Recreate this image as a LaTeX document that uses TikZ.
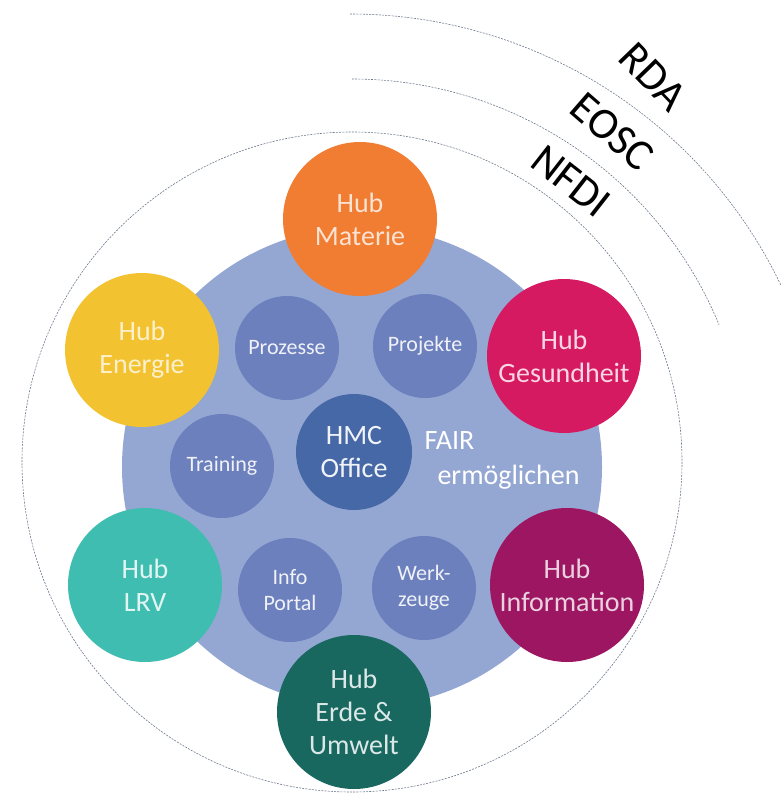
\documentclass[tikz,border=0pt]{standalone}
\usepackage{fontspec}
\setmainfont{Carlito}
\usepackage{xcolor}
\usetikzlibrary{math}
\definecolor{ringgray}{RGB}{108,122,140}
\definecolor{coreblue}{RGB}{148,166,210}
\definecolor{taskblue}{RGB}{108,128,189}
\definecolor{officeblue}{RGB}{70,104,166}
\definecolor{hmcorange}{RGB}{240,125,50}
\definecolor{hmcyellow}{RGB}{242,194,48}
\definecolor{hmcpink}{RGB}{214,26,98}
\definecolor{hmcplum}{RGB}{156,22,98}
\definecolor{hmcteal}{RGB}{62,189,176}
\definecolor{hmcgreen}{RGB}{24,104,96}

\begin{document}
\begin{tikzpicture}[x=1pt,y=-1pt,
  ring/.style={color=ringgray, line width=0.6pt, dash pattern=on 2pt off 1.2pt},
  hub/.style={circle, minimum size=154, inner sep=0, align=center,
    font=\fontsize{28}{33}\selectfont},
  task/.style={circle, minimum size=104, inner sep=0, fill=taskblue, align=center,
    text=white!90!taskblue, font=\fontsize{22}{26}\selectfont},
  level/.style={inner sep=0, font=\fontsize{44}{44}\selectfont}]
\tikzmath{
\cx=352; \cy=462; \R=330;
}
\useasboundingbox (0,0) rectangle (781,797);

%outer rings
\draw[ring] (\cx,\cy) circle (\R);
\draw[ring] (352,476) ++(-90:397) arc[start angle=-90, end angle=-22.4, radius=397];
\draw[ring] (350,492) ++(-90:478) arc[start angle=-90, end angle=-25.6, radius=478];
\node[level, rotate=-46] (rda) at (653,77) {RDA};
\node[level, rotate=-41] (eosc) at (612,132) {EOSC};
\node[level, rotate=-38] (nfdi) at (571,181) {NFDI};

%core
\fill[coreblue] (362,467) circle (240);
\node[task] (prozesse) at (287,348) {Prozesse};
\node[task] (projekte) at (425,346) {Projekte};
\node[task] (training) at (222,466) {Training};
\node[task] (portal) at (290,590) {Info\\Portal};
\node[task] (werkzeuge) at (424,588) {Werk-\\zeuge};
\node[task, minimum size=116, fill=officeblue, text=white!92!officeblue,
  font=\fontsize{28}{33}\selectfont] (office) at (354,452) {HMC\\Office};
\node[anchor=base west, text=white, font=\fontsize{28}{33}\selectfont] (fair) at (421,449) {FAIR};
\node[anchor=base west, text=white, font=\fontsize{28}{33}\selectfont] (enable) at (434,484) {ermöglichen};

%hubs
\node[hub, fill=hmcorange, text=white!78!hmcorange] (materie) at (360,219) {Hub\\Materie};
\node[hub, fill=hmcyellow, text=white!75!hmcyellow] (energie) at (142,350) {Hub\\Energie};
\node[hub, fill=hmcpink, text=white!82!hmcpink] (gesundheit) at (564,356) {Hub\\Gesundheit};
\node[hub, fill=hmcteal, text=white!85!hmcteal] (lrv) at (145,585) {Hub\\LRV};
\node[hub, fill=hmcplum, text=white!80!hmcplum] (information) at (567,585) {Hub\\Information};
\node[hub, fill=hmcgreen, text=white!85!hmcgreen] (erde) at (354,712) {Hub\\Erde \&\\Umwelt};
\end{tikzpicture}
\end{document}
